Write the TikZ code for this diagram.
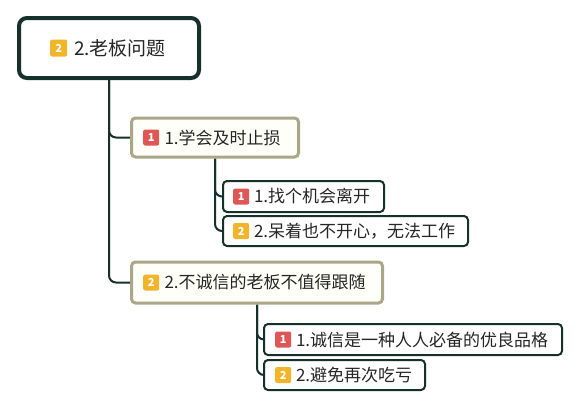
\documentclass[tikz,border=0pt]{standalone}
\usepackage{fontspec}
\setmainfont{Noto Sans CJK SC}
\usetikzlibrary{backgrounds}
\definecolor{dk}{RGB}{22,48,42}
\definecolor{olv}{RGB}{170,166,136}
\definecolor{bred}{RGB}{222,86,86}
\definecolor{byel}{RGB}{242,180,40}
\definecolor{cream}{RGB}{255,255,250}
\tikzset{
  x=1pt, y=-1pt,
  box/.style={rectangle, rounded corners=4pt, anchor=west, align=left, inner ysep=0pt, font=\fontsize{17}{20}\selectfont, text=black!85},
  rootbox/.style={box, draw=dk, line width=4pt, fill=white, rounded corners=8pt, font=\fontsize{19}{22}\selectfont},
  midbox/.style={box, draw=olv, line width=3pt, fill=cream},
  leafbox/.style={box, draw=dk, line width=2pt, fill=white},
  badge/.style={rectangle, rounded corners=2pt, anchor=west, minimum width=16pt, minimum height=16pt, inner sep=0pt, text=white, font=\fontsize{11}{11}\selectfont\bfseries},
  rbadge/.style={badge, fill=bred},
  ybadge/.style={badge, fill=byel},
  conn/.style={draw=dk, line width=2pt, rounded corners=7pt},
}
\begin{document}
\begin{tikzpicture}
\useasboundingbox (0,0) rectangle (578,408);
% root
\node[rootbox, minimum width=180pt, minimum height=60pt, inner xsep=33pt, text width=114pt] (root) at (17,48) {\hspace*{22pt}2.老板问题};
\node[ybadge, minimum width=17pt, minimum height=17pt] (rb) at (50,48) {2};
% child 1
\node[midbox, minimum width=167pt, minimum height=39pt, inner xsep=13pt, text width=141pt] (c1) at (130,137.5) {\hspace*{20pt}1.学会及时止损};
\node[rbadge] (c1b) at (143,137.5) {1};
% grandchildren of child 1
\node[leafbox, minimum width=161pt, minimum height=31pt, inner xsep=11pt, text width=139pt] (g1) at (222,196.5) {\hspace*{20pt}1.找个机会离开};
\node[rbadge] (g1b) at (233,196.5) {1};
\node[leafbox, minimum width=245pt, minimum height=30pt, inner xsep=11pt, text width=223pt] (g2) at (222,231) {\hspace*{20pt}2.呆着也不开心，无法工作};
\node[ybadge] (g2b) at (233,231) {2};
% child 2
\node[midbox, minimum width=251pt, minimum height=41pt, inner xsep=13pt, text width=225pt] (c2) at (130,282.5) {\hspace*{20pt}2.不诚信的老板不值得跟随};
\node[ybadge] (c2b) at (143,282.5) {2};
% grandchildren of child 2
\node[leafbox, minimum width=298pt, minimum height=31pt, inner xsep=12pt, text width=274pt] (g3) at (263,339.5) {\hspace*{20pt}1.诚信是一种人人必备的优良品格};
\node[rbadge] (g3b) at (275,339.5) {1};
\node[leafbox, minimum width=161pt, minimum height=30pt, inner xsep=12pt, text width=137pt] (g4) at (263,375) {\hspace*{20pt}2.避免再次吃亏};
\node[ybadge] (g4b) at (275,375) {2};
% connectors
\begin{pgfonlayer}{background}
\draw[conn] (root.south) |- (c1.west);
\draw[conn] (root.south) |- (c2.west);
\draw[conn] (c1.south) |- (g1.west);
\draw[conn] (c1.south) |- (g2.west);
\draw[conn] (c2.south) |- (g3.west);
\draw[conn] (c2.south) |- (g4.west);
\end{pgfonlayer}
\end{tikzpicture}
\end{document}
